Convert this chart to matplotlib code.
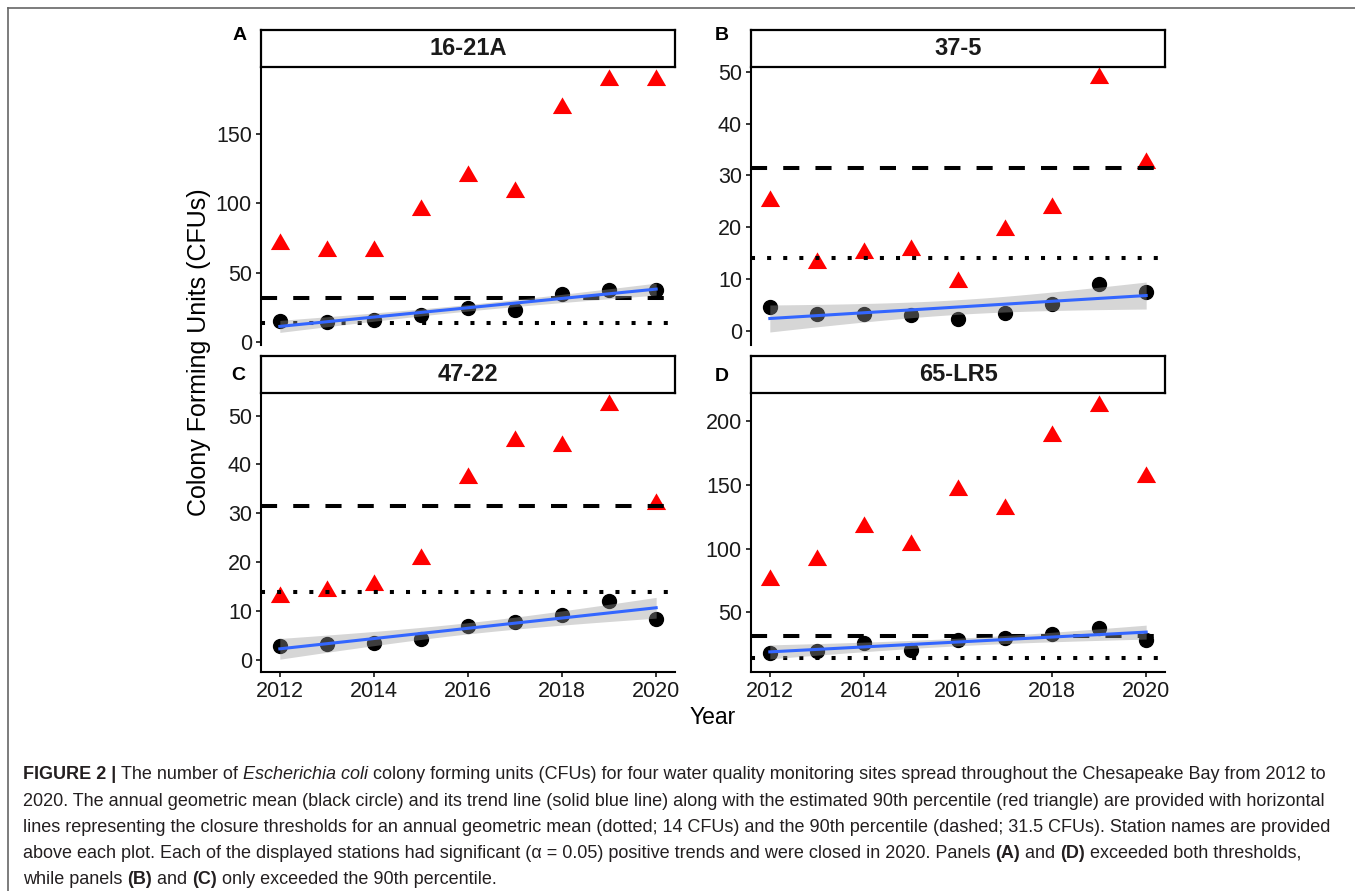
import numpy as np
import matplotlib
matplotlib.use('Agg')
import matplotlib.pyplot as plt
from matplotlib.lines import Line2D

plt.rcParams['font.family'] = ['Liberation Sans', 'DejaVu Sans']

# Dados
anos = np.arange(2012, 2021)
estacoes = ['16-21A', '37-5', '47-22', '65-LR5']
letras = ['A', 'B', 'C', 'D']

media_16_21A = [14.8, 14.4, 16.0, 19.6, 24.2, 23.2, 34.7, 37.6, 37.6]
p90_16_21A = [70.5, 65.5, 65.5, 95.0, 120.0, 108.0, 169.0, 189.0, 189.0]

media_37_5 = [4.6, 3.3, 3.2, 3.0, 2.3, 3.5, 5.2, 9.0, 7.5]
p90_37_5 = [25.0, 13.2, 15.0, 15.6, 9.5, 19.5, 23.8, 48.7, 32.4]

media_47_22 = [2.9, 3.3, 3.4, 4.4, 7.0, 7.8, 9.2, 12.1, 8.3]
p90_47_22 = [12.9, 14.2, 15.3, 20.7, 37.3, 44.7, 43.7, 52.1, 32.0]

media_65_LR5 = [18.3, 19.6, 25.6, 20.4, 28.2, 29.5, 32.7, 37.4, 28.2]
p90_65_LR5 = [75.3, 91.2, 117.0, 102.7, 146.0, 131.0, 188.0, 212.0, 156.0]

limite_media = 14      # dotted
limite_p90 = 31.5      # dashed

medias = [media_16_21A, media_37_5, media_47_22, media_65_LR5]
p90s = [p90_16_21A, p90_37_5, p90_47_22, p90_65_LR5]

# layout em pixels
W, H = 1355, 891
fig = plt.figure(figsize=(W / 100, H / 100), dpi=100)

def caixa(x0, y0, x1, y1):
    return [x0 / W, 1 - y1 / H, (x1 - x0) / W, (y1 - y0) / H]

colunas = [(261, 675), (751, 1165)]
linhas = [(30, 67, 68, 345), (356, 393, 394, 672)]
ylims = [(-2.2, 197.7), (-2.7, 50.7), (-2.45, 54.4), (3.1, 221.3)]
yticks = [[0, 50, 100, 150], [0, 10, 20, 30, 40, 50],
          [0, 10, 20, 30, 40, 50], [50, 100, 150, 200]]
pos_letras = [(240, 36), (722, 36), (238, 375), (722, 376)]

triangulo = [(0, 1), (-0.866, -0.5), (0.866, -0.5)]
t_crit = 2.3646  # t(0.975, df=7)

for i in range(4):
    lin, col = divmod(i, 2)
    x0, x1 = colunas[col]
    s0, s1, a0, a1 = linhas[lin]

    ax = fig.add_axes(caixa(x0, a0, x1, a1))
    media = np.array(medias[i])
    p90 = np.array(p90s[i])

    ax.plot(anos, media, ls='none', marker='o', ms=10, color='black', zorder=2)
    ax.plot(anos, p90, ls='none', marker=triangulo, ms=16, color='#FF0000',
            mec='none', zorder=3)
    ax.axhline(limite_p90, color='black', lw=2.9, dashes=(4, 4),
               dash_capstyle='butt', zorder=4)
    ax.axhline(limite_media, color='black', lw=2.9, dashes=(1, 3),
               dash_capstyle='butt', zorder=4)

    # tendencia linear com IC 95% (como geom_smooth(method='lm'))
    xc = anos - anos.mean()
    coef = np.polyfit(xc, media, 1)
    resid = media - np.polyval(coef, xc)
    s = np.sqrt(np.sum(resid ** 2) / (len(anos) - 2))
    xs = np.linspace(anos[0], anos[-1], 80)
    pred = np.polyval(coef, xs - anos.mean())
    se = s * np.sqrt(1 / len(anos) + (xs - anos.mean()) ** 2 / np.sum(xc ** 2))
    ax.fill_between(xs, pred - t_crit * se, pred + t_crit * se,
                    color='#999999', alpha=0.4, lw=0, zorder=5)
    ax.plot(xs, pred, color='#3366FF', lw=2.2, zorder=6)

    ax.set_xlim(2011.6, 2020.4)
    ax.set_ylim(*ylims[i])
    ax.set_yticks(yticks[i])
    ax.tick_params(axis='both', length=3.5, width=1.1, color='black',
                   labelsize=15.5, labelcolor='#1a1a1a', pad=3)
    for lado in ['top', 'right']:
        ax.spines[lado].set_visible(False)
    ax.spines['left'].set_linewidth(1.5)
    if lin == 0:
        ax.spines['bottom'].set_visible(False)
        ax.set_xticks([])
    else:
        ax.spines['bottom'].set_linewidth(1.5)
        ax.set_xticks([2012, 2014, 2016, 2018, 2020])

    # faixa do titulo
    st = fig.add_axes(caixa(x0, s0, x1, s1))
    st.set_xticks([])
    st.set_yticks([])
    for lado in st.spines.values():
        lado.set_linewidth(1.6)
        lado.set_color('black')
    st.text(0.5, 0.5, estacoes[i], ha='center', va='center',
            fontsize=17, weight='bold', color='#1a1a1a', transform=st.transAxes)

    lx, ly = pos_letras[i]
    fig.text(lx / W, 1 - ly / H, letras[i], ha='center', va='center',
             fontsize=14, weight='bold')

fig.text(199 / W, 1 - 352 / H, 'Colony Forming Units (CFUs)', rotation=90,
         ha='center', va='center', fontsize=18)
fig.text(713 / W, 1 - 717 / H, 'Year', ha='center', va='center', fontsize=16.5)

# moldura
fig.add_artist(Line2D([8 / W, 1], [1 - 8 / H, 1 - 8 / H], color='#666666', lw=1.2))
fig.add_artist(Line2D([8 / W, 8 / W], [0, 1 - 8 / H], color='#666666', lw=1.2))

# legenda (caption)
r = fig.canvas.get_renderer()

def largura(s, **kw):
    t = fig.text(0, 0, '|' + s + '|', **kw)
    w1 = t.get_window_extent(renderer=r).width
    t.remove()
    t = fig.text(0, 0, '||', **kw)
    w2 = t.get_window_extent(renderer=r).width
    t.remove()
    return w1 - w2

N, B, I = 'normal', 'bold', 'italic'
caption = [
    [('FIGURE 2 | ', B), ('The number of ', N), ('Escherichia coli', I),
     (' colony forming units (CFUs) for four water quality monitoring sites spread throughout the Chesapeake Bay from 2012 to', N)],
    [('2020. The annual geometric mean (black circle) and its trend line (solid blue line) along with the estimated 90th percentile (red triangle) are provided with horizontal', N)],
    [('lines representing the closure thresholds for an annual geometric mean (dotted; 14 CFUs) and the 90th percentile (dashed; 31.5 CFUs). Station names are provided', N)],
    [('above each plot. Each of the displayed stations had significant (\u03b1 = 0.05) positive trends and were closed in 2020. Panels ', N),
     ('(A)', B), (' and ', N), ('(D)', B), (' exceeded both thresholds,', N)],
    [('while panels ', N), ('(B)', B), (' and ', N), ('(C)', B), (' only exceeded the 90th percentile.', N)],
]
base = [779, 806, 832, 858, 884]
tam = 12.95

for linha, yb in zip(caption, base):
    x = 23
    for txt, estilo in linha:
        kw = dict(fontsize=tam, color='#231F20')
        if estilo == B:
            kw['weight'] = 'bold'
        elif estilo == I:
            kw['style'] = 'italic'
        fig.text(x / W, 1 - yb / H, txt, ha='left', va='baseline', **kw)
        x += largura(txt, **kw)

fig.savefig('out.png', dpi=100)
